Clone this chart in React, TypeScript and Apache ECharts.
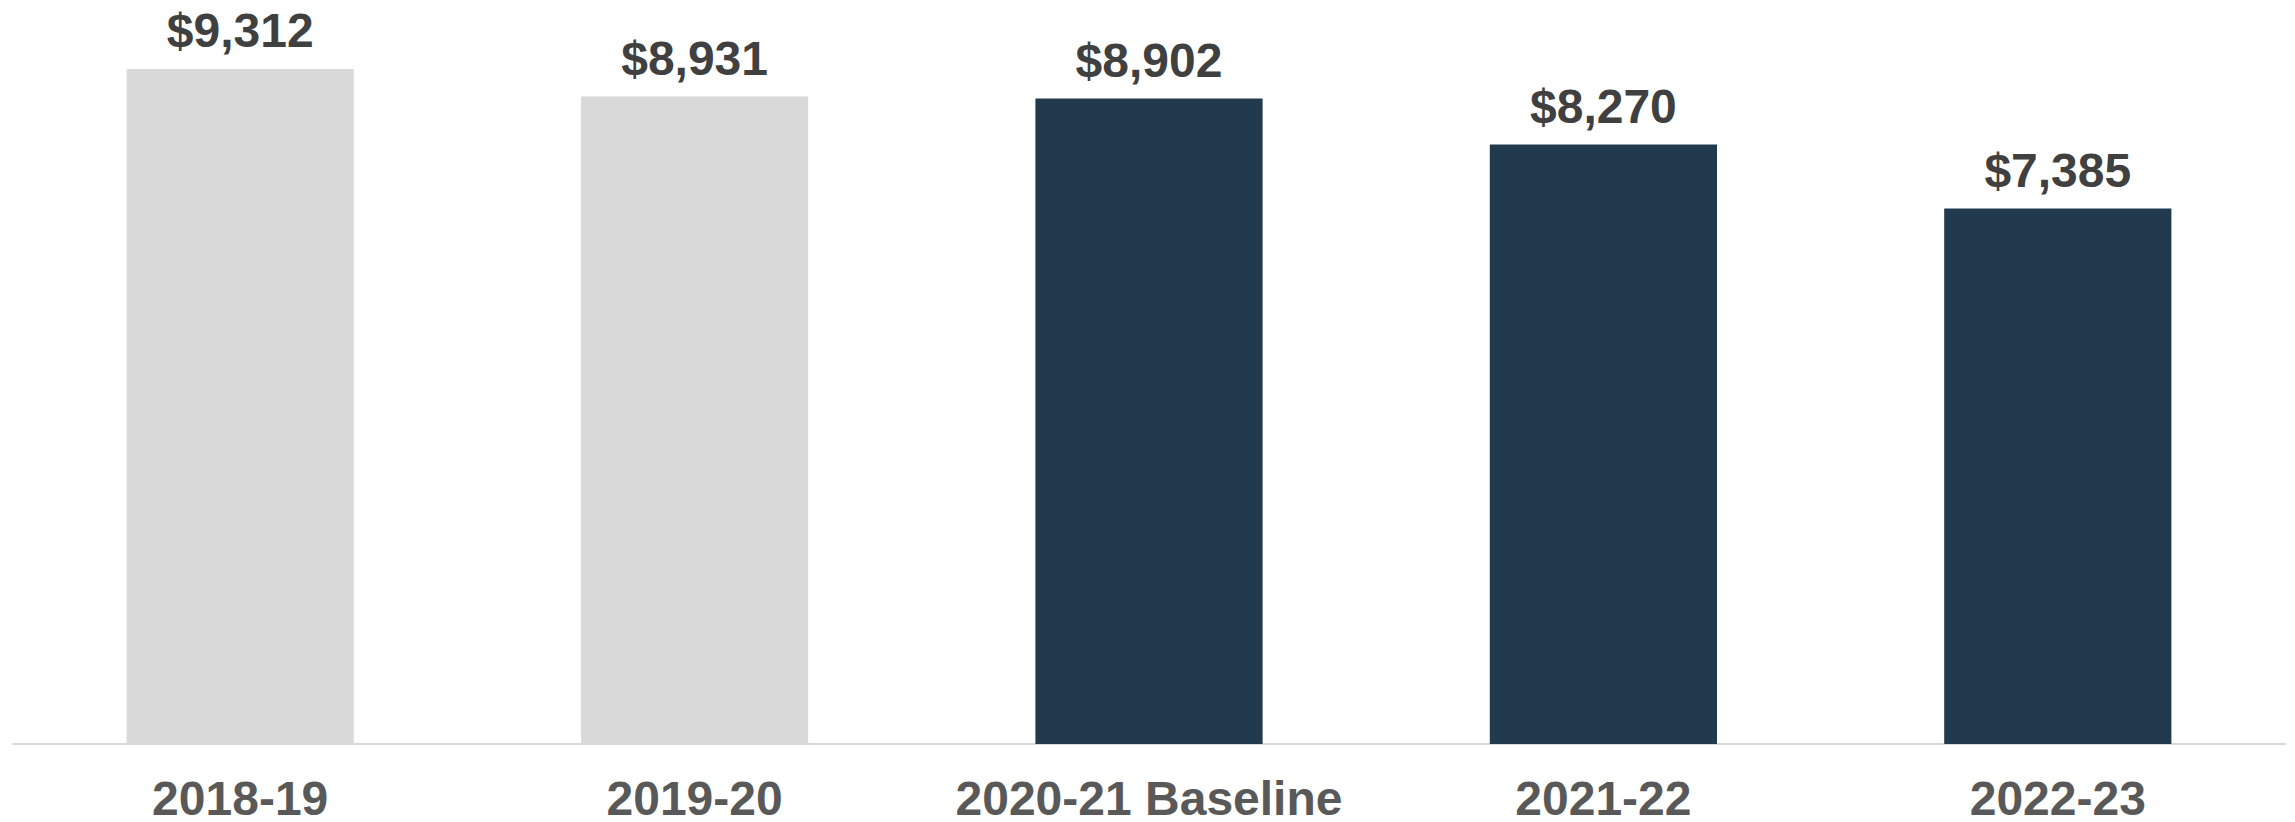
import React, { useEffect, useRef } from "react";
import * as echarts from "echarts";

const categories = ["2018-19", "2019-20", "2020-21 Baseline", "2021-22", "2022-23"];
const values = [9312, 8931, 8902, 8270, 7385];
const barColors = ["#D9D9D9", "#D9D9D9", "#223A4E", "#223A4E", "#223A4E"];

export default function App() {
  const ref = useRef<HTMLDivElement>(null);
  useEffect(() => {
    if (!ref.current) return;
    const chart = echarts.init(ref.current, undefined, { renderer: "svg" });
    chart.setOption({
      animation: false,
      grid: { left: 13, right: 10, top: 19, bottom: 78, containLabel: false },
      xAxis: {
        type: "category",
        data: categories,
        axisLine: { show: true, lineStyle: { color: "#D9D9D9", width: 2 } },
        axisTick: { show: false },
        axisLabel: {
          color: "#595959",
          fontFamily: "Liberation Sans, Arial, sans-serif",
          fontWeight: "bold",
          fontSize: 48,
          lineHeight: 34,
          margin: 37,
          interval: 0,
        },
      },
      yAxis: {
        type: "value",
        min: 0,
        max: 10000,
        show: false,
        splitLine: { show: false },
      },
      series: [
        {
          type: "bar",
          barWidth: "50%",
          data: values.map((v, i) => ({ value: v, itemStyle: { color: barColors[i] } })),
          label: {
            show: true,
            position: "top",
            distance: 14,
            color: "#404040",
            fontFamily: "Liberation Sans, Arial, sans-serif",
            fontWeight: "bold",
            fontSize: 48,
            formatter: (p: any) => "$" + Number(p.value).toLocaleString("en-US"),
          },
        },
      ],
    });
    return () => chart.dispose();
  }, []);
  return (
    <div
      ref={ref}
      style={{ position: "fixed", left: 0, top: 0, width: 2295, height: 822, background: "#fff" }}
    />
  );
}
